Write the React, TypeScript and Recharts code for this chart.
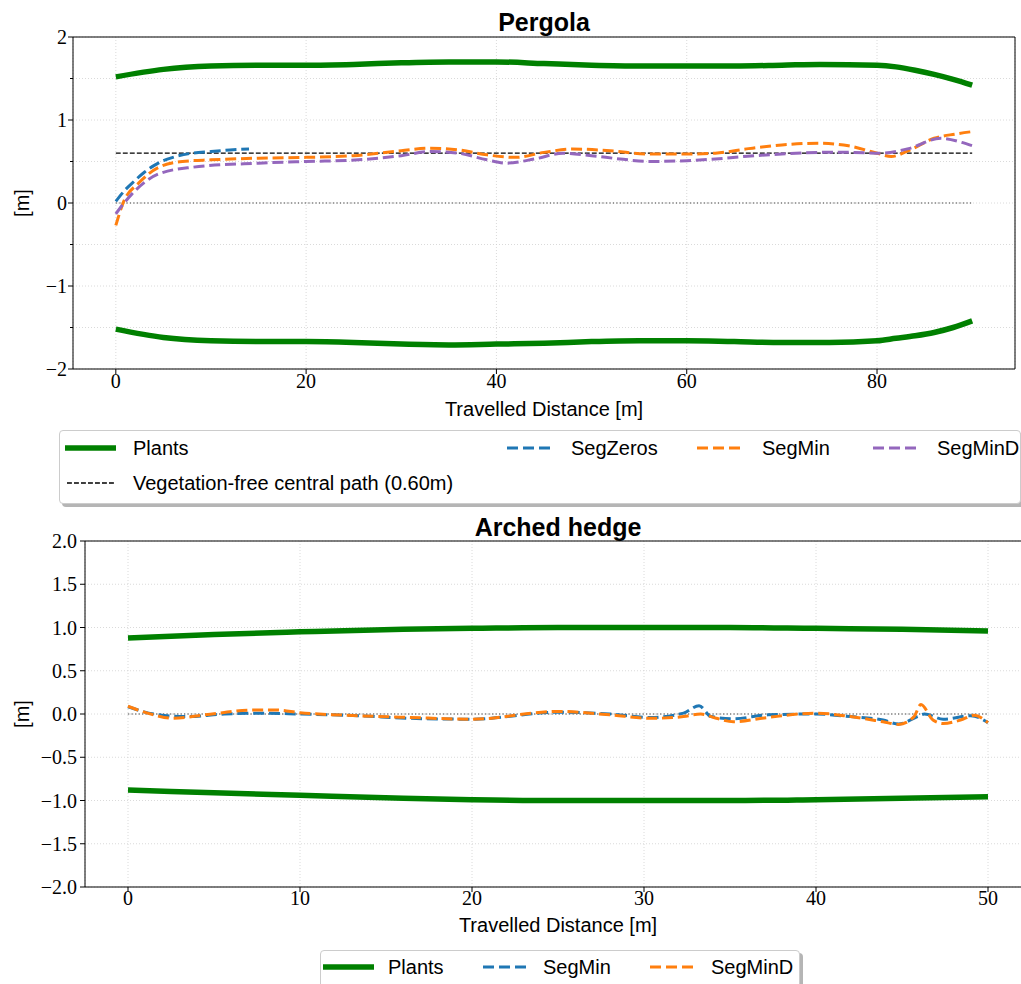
import React from 'react';
import { LineChart, Line, XAxis, YAxis, CartesianGrid, ReferenceLine } from 'recharts';

const SERIF = "'Liberation Serif', 'DejaVu Serif', serif";
const SANS = "'Liberation Sans', Arial, sans-serif";

const GREEN = '#008000';
const BLUE = '#1f77b4';
const ORANGE = '#ff7f0e';
const PURPLE = '#9467bd';

// ---- Pergola (top) ----
const pergolaTicksX = [0, 20, 40, 60, 80];
const pergolaTicksY = [-2, -1.5, -1, -0.5, 0, 0.5, 1, 1.5, 2];
const pergolaPath = 0.6;

const pergolaPlantsUpper = [
  [0, 1.52], [5, 1.61], [10, 1.65], [15, 1.66], [20, 1.66], [25, 1.67], [30, 1.69],
  [35, 1.7], [40, 1.7], [45, 1.68], [50, 1.66], [55, 1.65], [60, 1.65], [65, 1.65],
  [70, 1.66], [74, 1.67], [80, 1.66], [82, 1.64], [84, 1.6], [86, 1.55], [88, 1.49], [90, 1.42],
];
const pergolaPlantsLower = [
  [0, -1.52], [5, -1.62], [10, -1.66], [15, -1.67], [20, -1.67], [25, -1.68], [30, -1.7],
  [35, -1.71], [40, -1.7], [45, -1.69], [50, -1.67], [55, -1.66], [60, -1.66], [65, -1.67],
  [70, -1.68], [75, -1.68], [80, -1.66], [82, -1.63], [84, -1.6], [86, -1.56], [88, -1.5], [90, -1.42],
];
const pergolaSegZeros = [
  [0, 0.02], [1, 0.16], [2, 0.27], [3, 0.37], [4, 0.45], [5, 0.51], [6, 0.55],
  [8, 0.6], [10, 0.62], [12, 0.64], [14, 0.65],
];
const pergolaSegMin = [
  [0, -0.27], [0.8, 0.01], [2.4, 0.24], [4.5, 0.43], [7, 0.5], [10, 0.52], [15, 0.54],
  [20, 0.55], [25, 0.57], [30, 0.63], [33, 0.66], [36, 0.64], [39, 0.58], [42, 0.55],
  [45, 0.61], [48, 0.65], [52, 0.63], [56, 0.59], [60, 0.59], [63, 0.6], [66.5, 0.655],
  [70, 0.7], [73.8, 0.72], [77, 0.69], [80, 0.6], [81.5, 0.56], [83.3, 0.63], [86, 0.78],
  [88.2, 0.83], [90, 0.86],
];
const pergolaSegMinD = [
  [0, -0.13], [1.7, 0.11], [4.5, 0.35], [8, 0.43], [15, 0.48], [20, 0.5], [25.5, 0.52],
  [30, 0.57], [33, 0.62], [36, 0.6], [39, 0.52], [41, 0.48], [44, 0.53], [47, 0.6],
  [50, 0.57], [53, 0.53], [56, 0.5], [60, 0.51], [63, 0.53], [66, 0.56], [70, 0.59],
  [74, 0.61], [77, 0.61], [80.5, 0.6], [83.3, 0.655], [86.7, 0.78], [88.9, 0.73], [90, 0.69],
];

// ---- Arched hedge (bottom) ----
const hedgeTicksX = [0, 10, 20, 30, 40, 50];
const hedgeTicksY = [-2, -1.5, -1, -0.5, 0, 0.5, 1, 1.5, 2];

const hedgePlantsUpper = [
  [0, 0.88], [5, 0.92], [10, 0.95], [16, 0.98], [20, 0.99], [25, 1.0], [30, 1.0],
  [35, 1.0], [40, 0.99], [45, 0.98], [50, 0.96],
];
const hedgePlantsLower = [
  [0, -0.88], [5, -0.91], [10, -0.94], [16, -0.975], [20, -0.99], [25, -1.0], [30, -1.0],
  [35, -1.0], [40, -0.99], [45, -0.975], [50, -0.956],
];
const hedgeSegMin = [
  [0, 0.084], [1.5, 0.0], [3.4, -0.03], [5.6, 0.0], [7.6, 0.01], [10, 0.0], [13.4, -0.02],
  [16.4, -0.05], [20, -0.06], [25, 0.02], [28, 0.0], [30.4, -0.04], [32.3, 0.01], [33.2, 0.096],
  [33.9, -0.03], [35.2, -0.055], [37.2, -0.01], [40, 0.0], [42, -0.03], [43.9, -0.07],
  [44.8, -0.116], [45.9, -0.03], [46.3, 0.0], [47.4, -0.06], [49, -0.02], [50, -0.1],
];
const hedgeSegMinD = [
  [0, 0.09], [1.5, -0.01], [2.6, -0.05], [4.5, -0.01], [7.3, 0.046], [8.6, 0.046], [10, 0.015],
  [13.4, -0.02], [16.4, -0.04], [20, -0.06], [25, 0.03], [28, -0.01], [30.4, -0.05], [32.3, -0.03],
  [33.3, 0.0], [34.2, -0.05], [35.2, -0.09], [37.2, -0.04], [40, 0.01], [42, -0.03],
  [43.9, -0.09], [44.8, -0.12], [45.7, -0.03], [46.1, 0.11], [46.8, -0.07], [47.4, -0.11],
  [48.4, -0.07], [49.2, -0.015], [50, -0.1],
];

const pts = (a: number[][]) => a.map(([x, y]) => ({ x, y }));
const flat = (x0: number, x1: number, y: number) => [{ x: x0, y }, { x: x1, y }];
const minus = (s: string) => s.replace('-', '\u2212');

const makeXTick = (baseline: number) => (props: any) => {
  const { x, y, payload } = props;
  return (
    <g>
      <line x1={x} x2={x} y1={y} y2={y + 5} stroke="#000" strokeWidth={1} />
      <text x={x} y={y + baseline} textAnchor="middle" fill="#000" fontSize={20} fontFamily={SERIF}>
        {minus(String(payload.value))}
      </text>
    </g>
  );
};

const makeYTick = (gap: number, fmt: (v: number) => string | null) => (props: any) => {
  const { x, y, payload } = props;
  const label = fmt(payload.value);
  return (
    <g>
      <line x1={x - (label ? 5 : 3)} x2={x} y1={y} y2={y} stroke="#000" strokeWidth={1} />
      {label && (
        <text x={x - gap} y={y} dy="0.35em" textAnchor="end" fill="#000" fontSize={20} fontFamily={SERIF}>
          {label}
        </text>
      )}
    </g>
  );
};

const pergolaYTick = makeYTick(6, (v) => (Number.isInteger(v) ? minus(String(v)) : null));
const hedgeYTick = makeYTick(8, (v) => minus(v.toFixed(1)));

const dashStyle = { strokeWidth: 3, strokeDasharray: '11 4.8' };

const Handle = ({ color, kind }: { color: string; kind: 'solid' | 'dash' | 'thin' }) => (
  <svg width={52} height={10} style={{ display: 'block' }}>
    {kind === 'solid' && <line x1={0} x2={51} y1={5} y2={5} stroke={color} strokeWidth={5.5} />}
    {kind === 'dash' && <line x1={0} x2={43} y1={5} y2={5} stroke={color} strokeWidth={3} strokeDasharray="11 5" />}
    {kind === 'thin' && <line x1={2} x2={50} y1={5} y2={5} stroke={color} strokeWidth={1.3} strokeDasharray="4.9 2.1" />}
  </svg>
);

const Entry = ({ left, top, color, kind, text }: any) => (
  <div style={{ position: 'absolute', left, top, display: 'flex', alignItems: 'center', height: 24 }}>
    <Handle color={color} kind={kind} />
  </div>
);

const LegendText = ({ left, top, text }: any) => (
  <div style={{ position: 'absolute', left, top, transform: 'translateY(-50%)', fontFamily: SANS, fontSize: 20, whiteSpace: 'nowrap', color: '#000' }}>
    {text}
  </div>
);

const CenterText = ({ x, y, text, size = 20, bold = false, rotate = false }: any) => (
  <div
    style={{
      position: 'absolute', left: x, top: y, whiteSpace: 'nowrap', fontFamily: SANS, fontSize: size,
      fontWeight: bold ? 'bold' : 'normal', color: '#000',
      transform: `translate(-50%, -50%)${rotate ? ' rotate(-90deg)' : ''}`,
    }}
  >
    {text}
  </div>
);

const legendBox = {
  position: 'absolute' as const, background: '#fff', border: '1px solid #cccccc', borderRadius: 4,
  boxShadow: '3px 3px 0 #b5b5b5',
};

export default function App() {
  return (
    <div style={{ position: 'absolute', left: 0, top: 0, width: 1021, height: 984, overflow: 'hidden', background: '#fff' }}>
      {/* Pergola */}
      <div style={{ position: 'absolute', left: 0, top: 0 }}>
        <LineChart width={1021} height={420} margin={{ top: 37, right: 6, bottom: 11, left: 13 }}>
          <CartesianGrid stroke="#d0d0d0" strokeWidth={0.8} strokeDasharray="1 2" />
          <XAxis
            type="number" dataKey="x" domain={[-4.5, 94.5]} ticks={pergolaTicksX} interval={0}
            height={40} tickSize={0} tickMargin={0} tickLine={false}
            axisLine={{ stroke: '#000' }} tick={makeXTick(19)}
          />
          <YAxis
            type="number" domain={[-2, 2]} ticks={pergolaTicksY} interval={0} width={60}
            tickSize={0} tickMargin={0} tickLine={false} axisLine={{ stroke: '#000' }} tick={pergolaYTick}
          />
          <ReferenceLine y={2} stroke="#000" strokeWidth={1} />
          <ReferenceLine x={94.5} stroke="#000" strokeWidth={1} />
          <Line data={flat(0, 90, 0)} dataKey="y" type="linear" dot={false} activeDot={false} isAnimationActive={false}
            stroke="#444" strokeWidth={1.2} strokeDasharray="1.3 2.2" />
          <Line data={flat(0, 90, pergolaPath)} dataKey="y" type="linear" dot={false} activeDot={false} isAnimationActive={false}
            stroke="#000" strokeWidth={1.3} strokeDasharray="4.9 2.1" />
          <Line data={pts(pergolaPlantsUpper)} dataKey="y" type="monotone" dot={false} activeDot={false} isAnimationActive={false}
            stroke={GREEN} strokeWidth={5.5} />
          <Line data={pts(pergolaPlantsLower)} dataKey="y" type="monotone" dot={false} activeDot={false} isAnimationActive={false}
            stroke={GREEN} strokeWidth={5.5} />
          <Line data={pts(pergolaSegZeros)} dataKey="y" type="monotone" dot={false} activeDot={false} isAnimationActive={false}
            stroke={BLUE} {...dashStyle} />
          <Line data={pts(pergolaSegMin)} dataKey="y" type="monotone" dot={false} activeDot={false} isAnimationActive={false}
            stroke={ORANGE} {...dashStyle} />
          <Line data={pts(pergolaSegMinD)} dataKey="y" type="monotone" dot={false} activeDot={false} isAnimationActive={false}
            stroke={PURPLE} {...dashStyle} />
        </LineChart>
      </div>
      <CenterText x={544} y={22} text="Pergola" size={25} bold />
      <CenterText x={544} y={409} text="Travelled Distance [m]" />
      <CenterText x={22} y={203} text="[m]" rotate />

      {/* Pergola legend */}
      <div style={{ ...legendBox, left: 59, top: 430, width: 960, height: 72 }} />
      <Entry left={65} top={436} color={GREEN} kind="solid" />
      <LegendText left={133} top={448} text="Plants" />
      <Entry left={507} top={436} color={BLUE} kind="dash" />
      <LegendText left={571} top={448} text="SegZeros" />
      <Entry left={697} top={436} color={ORANGE} kind="dash" />
      <LegendText left={762} top={448} text="SegMin" />
      <Entry left={873} top={436} color={PURPLE} kind="dash" />
      <LegendText left={937} top={448} text="SegMinD" />
      <Entry left={65} top={471} color="#000" kind="thin" />
      <LegendText left={133} top={483} text="Vegetation-free central path (0.60m)" />

      {/* Arched hedge */}
      <div style={{ position: 'absolute', left: 0, top: 510 }}>
        <LineChart width={1040} height={430} margin={{ top: 31, right: 9, bottom: 13, left: 25 }}>
          <CartesianGrid stroke="#d0d0d0" strokeWidth={0.8} strokeDasharray="1 2" />
          <XAxis
            type="number" dataKey="x" domain={[-2.5, 52.5]} ticks={hedgeTicksX} interval={0}
            height={40} tickSize={0} tickMargin={0} tickLine={false}
            axisLine={{ stroke: '#000' }} tick={makeXTick(18)}
          />
          <YAxis
            type="number" domain={[-2, 2]} ticks={hedgeTicksY} interval={0} width={60}
            tickSize={0} tickMargin={0} tickLine={false} axisLine={{ stroke: '#000' }} tick={hedgeYTick}
          />
          <ReferenceLine y={2} stroke="#000" strokeWidth={1} />
          <Line data={flat(0, 50, 0)} dataKey="y" type="linear" dot={false} activeDot={false} isAnimationActive={false}
            stroke="#444" strokeWidth={1.2} strokeDasharray="1.3 2.2" />
          <Line data={pts(hedgePlantsUpper)} dataKey="y" type="monotone" dot={false} activeDot={false} isAnimationActive={false}
            stroke={GREEN} strokeWidth={5.5} />
          <Line data={pts(hedgePlantsLower)} dataKey="y" type="monotone" dot={false} activeDot={false} isAnimationActive={false}
            stroke={GREEN} strokeWidth={5.5} />
          <Line data={pts(hedgeSegMin)} dataKey="y" type="monotone" dot={false} activeDot={false} isAnimationActive={false}
            stroke={BLUE} {...dashStyle} />
          <Line data={pts(hedgeSegMinD)} dataKey="y" type="monotone" dot={false} activeDot={false} isAnimationActive={false}
            stroke={ORANGE} {...dashStyle} />
        </LineChart>
      </div>
      <CenterText x={558} y={527} text="Arched hedge" size={25} bold />
      <CenterText x={558} y={925} text="Travelled Distance [m]" />
      <CenterText x={22} y={714} text="[m]" rotate />

      {/* Arched hedge legend */}
      <div style={{ ...legendBox, left: 320, top: 950, width: 478, height: 44 }} />
      <Entry left={323} top={955} color={GREEN} kind="solid" />
      <LegendText left={388} top={967} text="Plants" />
      <Entry left={483} top={955} color={BLUE} kind="dash" />
      <LegendText left={543} top={967} text="SegMin" />
      <Entry left={650} top={955} color={ORANGE} kind="dash" />
      <LegendText left={711} top={967} text="SegMinD" />
    </div>
  );
}
